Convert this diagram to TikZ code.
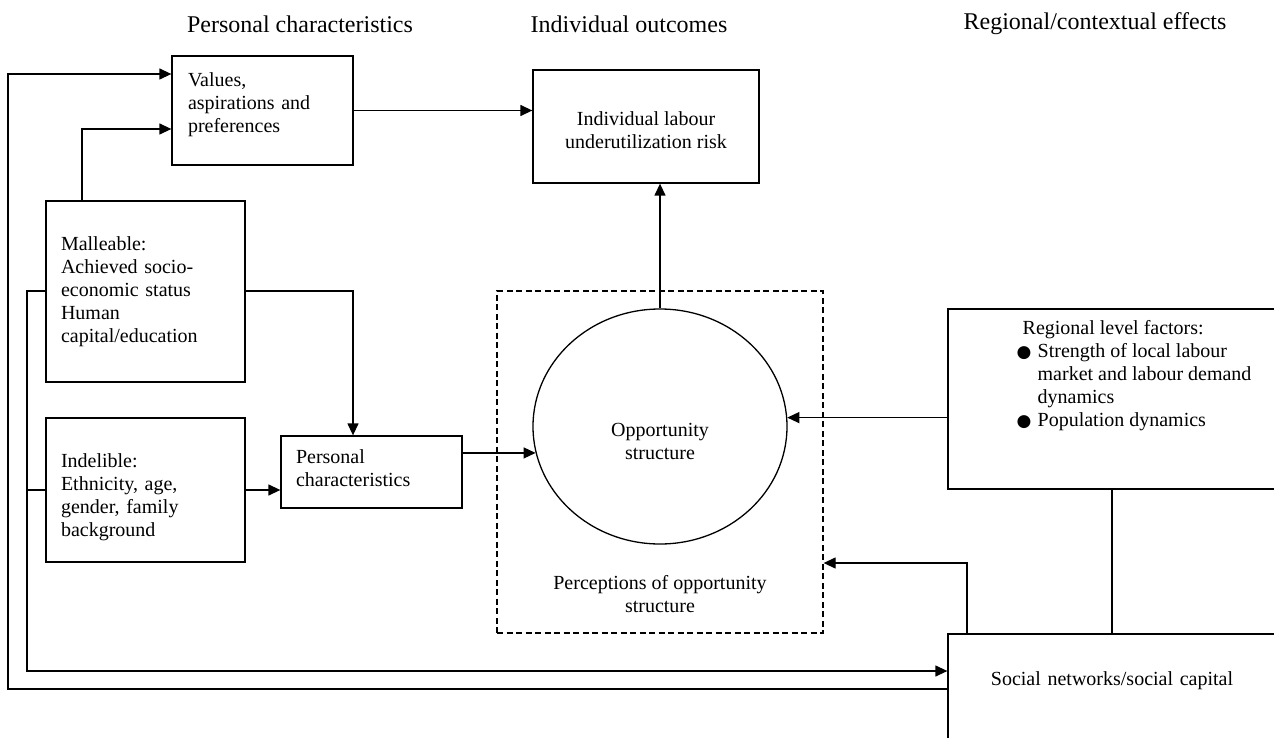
\documentclass[tikz,border=0pt]{standalone}
\usepackage{fontspec}
\setmainfont{Liberation Serif}
\newfontfamily\dejavu{DejaVu Sans}
\usetikzlibrary{arrows.meta,shapes.geometric}
\newcommand\bodyfs{\fontsize{20}{23}\selectfont}
\newcommand\headfs{\fontsize{24}{28}\selectfont}
\newcommand\bul{\makebox[15pt][l]{\hspace*{-6pt}\raisebox{0.5pt}{\dejavu\fontsize{17}{17}\selectfont ●}}}
\begin{document}
\begin{tikzpicture}[x=1pt,y=-1pt, line width=1.3pt,
  box/.style={draw, rectangle, inner sep=0pt, font=\bodyfs},
  arr/.style={-{Triangle[length=12pt,width=11pt]}},
  head/.style={font=\headfs, inner sep=0pt},
  txt/.style={font=\bodyfs, inner sep=0pt}]
\useasboundingbox (0,0) rectangle (1274,738);

% headings
\node[head] (h1) at (300,24) {Personal characteristics};
\node[head] (h2) at (629,24) {Individual outcomes};
\node[head] (h3) at (1095,24) {Regional/contextual effects};

% boxes
\node[box, minimum width=181, minimum height=109, text width=149, inner xsep=16, align=left] (values) at (262.5,110.5)
  {Values,\\aspirations and\\preferences\rule[-16pt]{0pt}{16pt}};
\node[box, minimum width=226, minimum height=113, align=center] (indiv) at (646,126.5)
  {\rule{0pt}{21pt}Individual labour\\underutilization risk};
\node[box, minimum width=199, minimum height=181, text width=169, inner xsep=15, align=left] (mall) at (145.5,291.5)
  {Malleable:\\Achieved socio-\\economic status\\Human\\capital/education};
\node[box, minimum width=199, minimum height=144, text width=169, inner xsep=15, align=left] (indel) at (145.5,490)
  {\rule{0pt}{28pt}Indelible:\\Ethnicity, age,\\gender, family\\background};
\node[box, minimum width=181, minimum height=72, text width=151, inner xsep=15, align=left] (pc) at (371.5,472)
  {Personal\\characteristics\rule[-8pt]{0pt}{8pt}};

\node[draw, dash pattern=on 6pt off 3.5pt, minimum width=326, minimum height=342, inner sep=0pt] (perc) at (660,462) {};
\node[txt, align=center] (perclab) at (660,594) {Perceptions of opportunity\\structure};
\node[draw, ellipse, minimum width=254, minimum height=235, inner sep=0pt] (opp) at (660,426.5) {};
\node[txt, align=center] (opptext) at (660,441) {Opportunity\\structure};

\node[box, minimum width=328, minimum height=180] (reg) at (1112,399) {};
\node[txt, align=left, anchor=north west] (regtext) at (1022,320)
  {Regional level factors:\\\bul Strength of local labour\\\hspace*{15pt}market and labour demand\\\hspace*{15pt}dynamics\\\bul Population dynamics};
\node[box, minimum width=328, minimum height=126, text width=300, inner xsep=14, align=center] (social) at (1112,697)
  {Social networks/social capital\rule[-37pt]{0pt}{37pt}};

% bend points
\coordinate (o1) at (8,689);
\coordinate (o2) at (8,74);
\coordinate (i1) at (27,291);
\coordinate (i2) at (27,671);
\coordinate (m1) at (82,129);
\coordinate (m2) at (353,291);
\coordinate (s1) at (967,563);

% connectors
\draw[arr] (social.west |- o1) -- (o1) -- (o2) -- (values.west |- o2);
\draw[arr] (mall.west |- i1) -- (i1) -- (i2) -- (social.west |- i2);
\draw (indel.west) -- (indel.west -| i1);
\draw[arr] (mall.north -| m1) -- (m1) -- (values.west |- m1);
\draw[arr] (values.east) -- (values.east -| indiv.west);
\draw[arr] (mall.east |- m2) -- (m2) -- (pc.north -| m2);
\draw[arr] (indel.east) -- (indel.east -| pc.west);
\draw[arr] (pc.east |- opp.192) -- (opp.192);
\draw[arr] (reg.west |- opp.4) -- (opp.4);
\draw[arr] (opp.north) -- (opp.north |- indiv.south);
\draw (reg.south) -- (social.north);
\draw[arr] (social.north -| s1) -- (s1) -- (perc.east |- s1);
\end{tikzpicture}
\end{document}
